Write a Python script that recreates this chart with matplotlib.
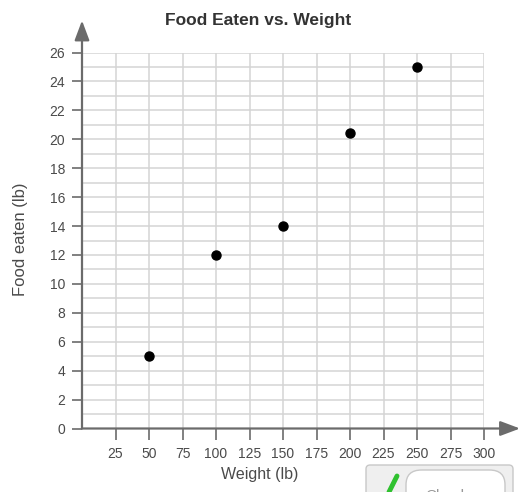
import matplotlib

matplotlib.use("Agg")
import matplotlib.pyplot as plt
from matplotlib.patches import FancyBboxPatch
from matplotlib.ticker import MultipleLocator

plt.rcParams["font.family"] = ["Liberation Sans", "DejaVu Sans"]

weights = [50, 100, 150, 200, 250]
food_eaten = [5, 12, 14, 20.4, 25]
x_ticks = [25, 50, 75, 100, 125, 150, 175, 200, 225, 250, 275, 300]
y_ticks = list(range(0, 27, 2))

axis_color = "#6b6b6b"
grid_color = "#d4d4d4"
text_color = "#4a4a4a"

fig = plt.figure(figsize=(5.2, 4.92), dpi=100)
fig.patch.set_facecolor("#ffffff")
ax = fig.add_axes([82 / 520, 1 - 428.5 / 492, (484 - 82) / 520, (428.5 - 52.5) / 492])

ax.set_xlim(0, 300)
ax.set_ylim(0, 26)
ax.set_xticks(x_ticks)
ax.set_yticks(y_ticks)
ax.yaxis.set_minor_locator(MultipleLocator(1))
ax.grid(which="both", color=grid_color, linewidth=1.1)
ax.tick_params(which="minor", length=0)
ax.tick_params(axis="x", length=8, width=1.2, color=axis_color, pad=5,
               labelsize=10, labelcolor=text_color)
ax.tick_params(axis="y", length=7, width=1.2, color=axis_color, pad=5,
               labelsize=10, labelcolor=text_color)
ax.set_axisbelow(True)

for side in ("top", "right", "left", "bottom"):
    ax.spines[side].set_visible(False)

# axis lines with arrow heads
ax.annotate("", xy=(0, 1 + 32 / 376), xytext=(0, 0), xycoords="axes fraction",
            arrowprops=dict(arrowstyle="-|>,head_length=1.2,head_width=0.45",
                            color=axis_color, lw=1.6, shrinkA=0, shrinkB=0),
            annotation_clip=False)
ax.annotate("", xy=(1 + 36 / 402, 0), xytext=(0, 0), xycoords="axes fraction",
            arrowprops=dict(arrowstyle="-|>,head_length=1.2,head_width=0.45",
                            color=axis_color, lw=1.6, shrinkA=0, shrinkB=0),
            annotation_clip=False)

ax.plot(weights, food_eaten, "o", color="#000000", markersize=6.5, zorder=5, clip_on=False)

fig.text(258 / 520, 1 - 25 / 492, "Food Eaten vs. Weight", ha="center", va="baseline",
         fontsize=12.5, fontweight="bold", color="#333333")
fig.text(260 / 520, 1 - 479 / 492, "Weight (lb)", ha="center", va="baseline",
         fontsize=11.5, color=text_color)
fig.text(21 / 520, 1 - 239 / 492, "Food eaten (lb)", ha="center", va="center",
         rotation=90, fontsize=12, color=text_color)

# partially visible "Check" button at the bottom right
fig.patches.append(FancyBboxPatch((366 / 520, -20 / 492), 147 / 520, 47 / 492,
                                  boxstyle="round,pad=0,rounding_size=0.008",
                                  transform=fig.transFigure, facecolor="#efefef",
                                  edgecolor="#c8c8c8", linewidth=1))
fig.patches.append(FancyBboxPatch((406 / 520, -20 / 492), 99 / 520, 42 / 492,
                                  boxstyle="round,pad=0,rounding_size=0.03",
                                  transform=fig.transFigure, facecolor="#ffffff",
                                  edgecolor="#c8c8c8", linewidth=1))
fig.lines.append(plt.Line2D([389 / 520, 397 / 520], [1 - 492 / 492, 1 - 476 / 492],
                            transform=fig.transFigure, color="#2fc12f", linewidth=3.5,
                            solid_capstyle="round"))
fig.text(447 / 520, -4 / 492, "Check", ha="center", va="center", fontsize=11, color="#999999")

fig.savefig("out.png", dpi=100)
plt.close(fig)
